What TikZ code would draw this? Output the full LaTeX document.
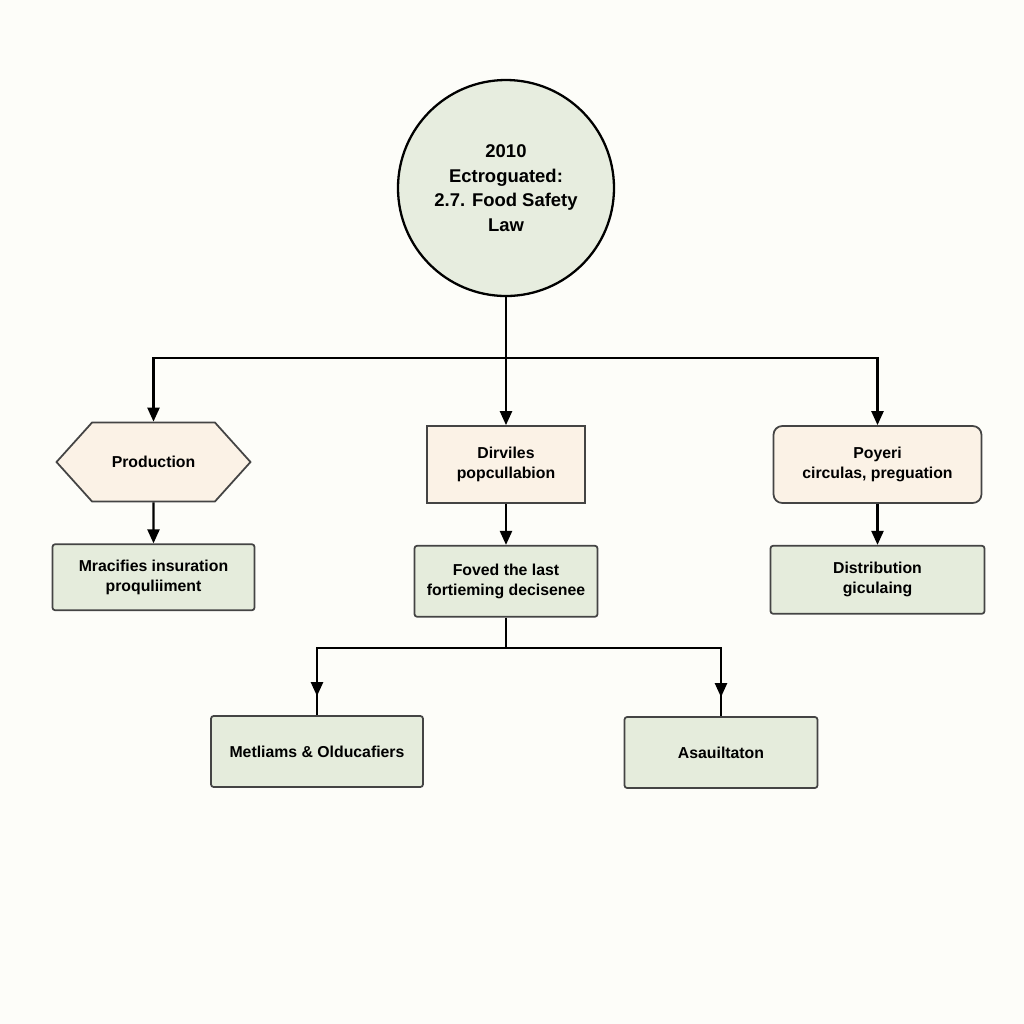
\documentclass[tikz,border=0pt]{standalone}
\usepackage{fontspec}
\setmainfont{Liberation Sans}
\usetikzlibrary{arrows.meta,positioning,shapes.symbols,decorations.markings,calc}
\definecolor{lawgreen}{HTML}{E7EDDF}
\definecolor{boxgreen}{HTML}{E5ECDC}
\definecolor{boxpeach}{HTML}{FBF2E6}
\definecolor{paper}{HTML}{FDFDF9}
\definecolor{edgegray}{HTML}{444444}

\begin{document}
\begin{tikzpicture}[node distance=8.2mm,
    every node/.style={font=\bfseries\fontsize{9}{11.5}\selectfont,align=center},
    greenbox/.style={draw=edgegray,line width=1pt,rounded corners=1.5pt,fill=boxgreen},
    peachbox/.style={draw=edgegray,line width=1pt,fill=boxpeach},
    link/.style={line width=1.3pt},
    arrow/.style={link,-{Triangle[length=2.8mm,width=2.4mm]}},
    midtip/.style={link,postaction={decorate},decoration={markings,mark=at position -0.38cm with {\arrow{Triangle[length=2.8mm,width=2.4mm]}}}}
  ]
    \fill[paper] (0,0) rectangle (20.48,-20.48);
    % the law at the top
    \node[circle,draw,line width=1.3pt,fill=lawgreen,minimum size=4.32cm,font=\bfseries\fontsize{10.5}{14}\selectfont] (law) at (10.12,-3.76) {2010\\Ectroguated:\\2.7. Food Safety\\Law};
    \coordinate (split) at (law.south |- 0,-7.16);
    % first row
    \node[peachbox,signal,signal to=west and east,signal pointer angle=96,minimum width=3.88cm,minimum height=1.58cm] (prod) at (3.07,-9.24) {Production};
    \node[peachbox,minimum width=3.16cm,minimum height=1.54cm] (pop) at (10.12,-9.29) {Dirviles\\popcullabion};
    \node[peachbox,rounded corners=5pt,minimum width=4.16cm,minimum height=1.54cm] (circ) at (17.55,-9.29) {Poyeri\\circulas, preguation};
    % second row
    \node[greenbox,minimum width=4.04cm,minimum height=1.32cm,below=of prod] (insur) {Mracifies insuration\\proquliiment};
    \node[greenbox,minimum width=3.66cm,minimum height=1.42cm,below=of pop] (decis) {Foved the last\\fortieming decisenee};
    \node[greenbox,minimum width=4.28cm,minimum height=1.36cm,below=of circ] (distr) {Distribution\\giculaing};
    \coordinate (split2) at (decis.south |- 0,-12.96);
    % third row
    \node[greenbox,minimum width=4.24cm,minimum height=1.42cm] (metl) at (6.34,-15.03) {Metliams \& Olducafiers};
    \node[greenbox,minimum width=3.86cm,minimum height=1.42cm] (asau) at (14.42,-15.05) {Asauiltaton};
    \draw[link] (law.south) -- (split);
    \draw[arrow] (split) -| (prod.north);
    \draw[arrow] (split) -- (pop.north);
    \draw[arrow] (split) -| (circ.north);
    \draw[arrow] (prod) -- (insur);
    \draw[arrow] (pop) -- (decis);
    \draw[arrow] (circ) -- (distr);
    \draw[link] (decis.south) -- (split2);
    \draw[midtip] (split2) -| (metl.north);
    \draw[midtip] (split2) -| (asau.north);
  \end{tikzpicture}
\end{document}
